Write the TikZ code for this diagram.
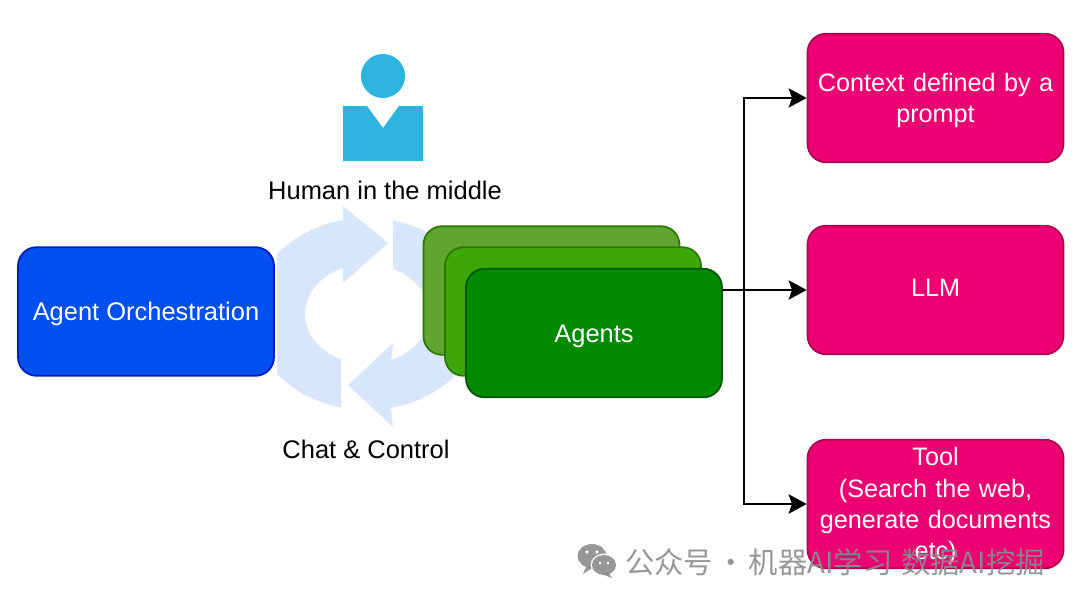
\documentclass[tikz,border=0pt]{standalone}
\usepackage{fontspec}
\setmainfont{Liberation Sans}
\newfontfamily\cjkfont{Noto Sans CJK SC}
\usetikzlibrary{arrows.meta}
\definecolor{cycleblue}{HTML}{D7E6FA}
\definecolor{personblue}{HTML}{2DB4DE}
\definecolor{pinkfill}{HTML}{EC0072}
\definecolor{pinkline}{HTML}{B00050}
\definecolor{bluefill}{HTML}{0050EF}
\definecolor{blueline}{HTML}{001DBC}
\definecolor{greenA}{HTML}{5FA62E}
\definecolor{greenB}{HTML}{3CA808}
\definecolor{greenC}{HTML}{008A00}
\definecolor{greenlineA}{HTML}{2D7600}
\definecolor{greenlineC}{HTML}{005700}
\definecolor{wmgray}{HTML}{8C8C8C}
\tikzset{
  x=0.75pt,y=-0.75pt,
  card/.style={draw,line width=1.3pt,rounded corners=14pt,minimum width=192pt,minimum height=96.5pt,
    inner sep=0pt,font=\fontsize{19.1pt}{23.2pt}\selectfont,text=white,align=center},
  pinkcard/.style={card,fill=pinkfill,draw=pinkline,text width=188pt,font=\fontsize{18.9pt}{23.4pt}\selectfont},
  caption/.style={font=\fontsize{19.1pt}{23pt}\selectfont,text=black,inner sep=0pt},
  link/.style={draw=black,line width=1.4pt,-{Triangle[length=13.5pt,width=14.5pt,inset=2.5pt]}},
  wire/.style={draw=black,line width=1.4pt},
}
\begin{document}
\begin{tikzpicture}
\useasboundingbox[fill=white] (0,0) rectangle (1080,604);
% cycle icon
\begin{scope}
\clip (277,0) rectangle (1080,604);
\fill[cycleblue] plot[domain=103:258,samples=50] ({367+115*cos(\x)},{314+96*sin(\x)})
  -- (343,206) -- (388,243) -- (343,283)
  -- plot[domain=247:115,samples=50] ({367+62*cos(\x)},{314+50*sin(\x)}) -- cycle;
\fill[cycleblue] plot[domain=103:258,samples=50] ({367-115*cos(\x)},{314-96*sin(\x)})
  -- (393,427) -- (348,385) -- (393,343)
  -- plot[domain=247:115,samples=50] ({367-62*cos(\x)},{314-50*sin(\x)}) -- cycle;
\end{scope}
% person
\fill[personblue] (383,76) circle[radius=22];
\fill[personblue] (343,106) -- (367,106) -- (383,128) -- (399,106) -- (423,106) -- (423,161) -- (343,161) -- cycle;
\node[caption] (human) at (385,190) {Human in the middle};
\node[caption] (chat) at (366,449) {Chat \& Control};
% boxes
\node[card,fill=bluefill,draw=blueline] (orch) at (146,311.5) {\rule{0pt}{17pt}Agent Orchestration};
\node[card,fill=greenA,draw=greenlineA] (a1) at (551.5,290.5) {};
\node[card,fill=greenB,draw=greenlineA] (a2) at (573,311.5) {};
\node[card,fill=greenC,draw=greenlineC] (agents) at (594,333) {\rule{0pt}{18pt}Agents};
\node[pinkcard] (ctx) at (935.5,98) {\rule{0pt}{17pt}Context defined by a\\prompt};
\node[pinkcard] (llm) at (935.5,290) {\rule[-3pt]{0pt}{3pt}LLM};
\node[pinkcard] (tool) at (935.5,504) {\rule{0pt}{17pt}Tool\\(Search the web,\\generate documents\\etc)};
% connectors
\coordinate (hub) at (722,290);
\coordinate (trunk) at (744,290);
\draw[wire] (hub) -- (trunk);
\draw[link] (trunk) -- (llm.west);
\draw[link] (trunk) |- (ctx.west);
\draw[link] (trunk) |- (tool.west);
% watermark
\begin{scope}[opacity=0.9]
\fill[wmgray] (592,556) ellipse[x radius=14.5,y radius=12];
\fill[wmgray] (587,565) -- (583,574) -- (594,567) -- cycle;
\fill[white] (604,565) ellipse[x radius=13.5,y radius=11.5];
\fill[wmgray] (604,565) ellipse[x radius=12,y radius=10];
\fill[wmgray] (608,572) -- (612,578) -- (602,574) -- cycle;
\fill[white] (587,552) circle[radius=1.8] (597,552) circle[radius=1.8] (600,563) circle[radius=1.5] (608,563) circle[radius=1.5];
\node[anchor=west,inner sep=0pt,text=wmgray,font=\cjkfont\fontsize{22pt}{24pt}\selectfont] (mark) at (625,562) {公众号\kern-2.6pt{} · \kern-2.6pt{}机器AI学习 \kern1.5pt{}数据AI挖掘};
\end{scope}
\end{tikzpicture}
\end{document}
